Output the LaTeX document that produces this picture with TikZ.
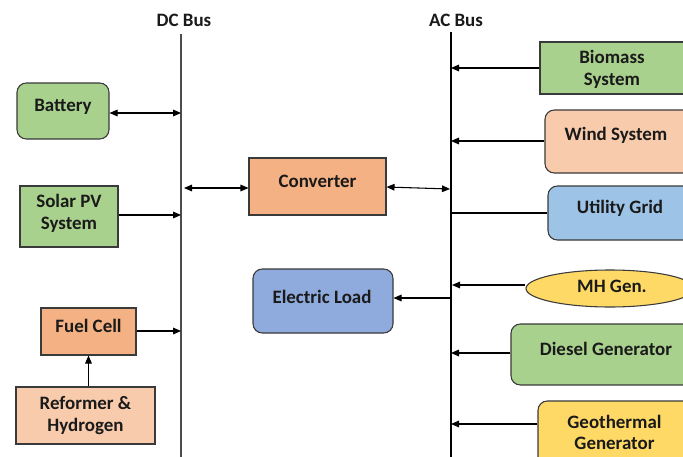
\documentclass[tikz,border=0pt]{standalone}
\usepackage{fontspec}
\setmainfont{Carlito}
\usetikzlibrary{arrows.meta,shapes.geometric}
\definecolor{cgreen}{HTML}{A9D18E}
\definecolor{corange}{HTML}{F4B183}
\definecolor{clorange}{HTML}{F8CBAD}
\definecolor{cblue}{HTML}{8FAADC}
\definecolor{clblue}{HTML}{9DC3E6}
\definecolor{cyellow}{HTML}{FFD966}
\definecolor{cborder}{HTML}{3A3A3A}
\definecolor{ctext}{HTML}{1A1A1A}
\begin{document}
\begin{tikzpicture}[x=0.75pt,y=-0.75pt,
  box/.style={draw=cborder, line width=0.8pt, inner sep=0pt},
  rbox/.style={box, rounded corners=7pt},
  txt/.style={font=\fontsize{14.2}{16}\selectfont\bfseries, text=ctext, align=center, inner sep=0pt},
  conn/.style={line width=0.8pt, draw=black},
  tip/.style={-{Triangle[length=6pt,width=5pt]}},
  dtip/.style={{Triangle[length=6pt,width=5pt]}-{Triangle[length=6pt,width=5pt]}},
  bus/.style={line width=1.2pt}]
\useasboundingbox (0,0) rectangle (683,457);
\clip (0,0) rectangle (683,457);
\fill[white] (0,0) rectangle (683,457);

% buses
\node[txt] (dclabel) at (184,20) {DC Bus};
\node[txt] (aclabel) at (456,20) {AC Bus};
\coordinate (dctop) at (181,34);
\coordinate (dcbot) at (181,460);
\coordinate (actop) at (451,32);
\coordinate (acbot) at (451,460);
\draw[bus, draw=black!70] (dctop) -- (dcbot);
\draw[bus, draw=black] (actop) -- (acbot);

% left side
\node[rbox, fill=cgreen, minimum width=69pt, minimum height=42pt] (bat) at (63,111) {};
\node[txt] (batt) at (63,106.5) {Battery};
\node[box, fill=cgreen, minimum width=73.5pt, minimum height=45.75pt] (pv) at (69,216.5) {};
\node[txt] (pvt) at (69,213.5) {Solar PV\\System};
\node[box, fill=corange, minimum width=71.25pt, minimum height=35.25pt] (fc) at (88.5,331.5) {};
\node[txt] (fct) at (88.5,325.5) {Fuel Cell};
\node[box, fill=clorange, minimum width=104.25pt, minimum height=42.75pt] (ref) at (85.5,415.5) {};
\node[txt] (reft) at (85.5,415.5) {Reformer \&\\Hydrogen};

% middle
\node[box, fill=corange, minimum width=102.75pt, minimum height=42.75pt] (conv) at (317.5,186.5) {};
\node[txt] (convt) at (317.5,181.5) {Converter};
\node[rbox, fill=cblue, minimum width=105pt, minimum height=48pt] (load) at (323,301) {};
\node[txt] (loadt) at (322,296.5) {Electric Load};

% right side
\node[box, fill=cgreen, minimum width=120pt, minimum height=39pt] (bio) at (620,68) {};
\node[txt] (biot) at (612,69.5) {Biomass\\System};
\node[rbox, fill=clorange, minimum width=116.25pt, minimum height=47.25pt] (wind) at (622.5,141.5) {};
\node[txt] (windt) at (616,135.5) {Wind System};
\node[rbox, fill=clblue, minimum width=114pt, minimum height=40.5pt] (grid) at (624,213) {};
\node[txt] (gridt) at (620,208.5) {Utility Grid};
\node[ellipse, draw=cborder, line width=0.8pt, fill=cyellow, inner sep=0pt, minimum width=126pt, minimum height=27.75pt] (mh) at (610,288.5) {};
\node[txt] (mht) at (612,286.5) {MH Gen.};
\node[rbox, fill=cgreen, minimum width=141.75pt, minimum height=45.75pt] (dsl) at (605.5,354.5) {};
\node[txt] (dslt) at (606,348.5) {Diesel Generator};
\node[rbox, fill=cyellow, minimum width=121.5pt, minimum height=51.75pt] (geo) at (619,435.5) {};
\node[txt] (geot) at (614.5,432.5) {Geothermal\\Generator};

% bus tap coordinates
\coordinate (d1) at (181,113);
\coordinate (d2) at (181,215);
\coordinate (d3) at (184,188);
\coordinate (d4) at (181,331);
\coordinate (a1) at (451,68);
\coordinate (a2) at (451,141);
\coordinate (a3) at (450,189);
\coordinate (a4) at (451,213);
\coordinate (a5) at (452,285);
\coordinate (a6) at (452,298);
\coordinate (a7) at (451,353);
\coordinate (a8) at (451,424);

% connectors
\draw[conn, dtip] (bat.east |- d1) -- (d1);
\draw[conn, tip] (pv.east |- d2) -- (d2);
\draw[conn, dtip] (d3) -- (conv.west |- d3);
\draw[conn, tip] (fc.east |- d4) -- (d4);
\draw[conn, tip] (ref.north -| fct) -- (fc.south -| fct);
\draw[conn, dtip] (conv.east |- 0,187) -- (a3);
\draw[conn, tip] (a6) -- (load.east |- a6);
\draw[conn, tip] (bio.west |- a1) -- (a1);
\draw[conn, tip] (wind.west |- a2) -- (a2);
\draw[conn] (grid.west |- a4) -- (a4);
\draw[conn, tip] (mh.west |- a5) -- (a5);
\draw[conn, tip] (dsl.west |- a7) -- (a7);
\draw[conn, tip] (geo.west |- a8) -- (a8);
\end{tikzpicture}
\end{document}
